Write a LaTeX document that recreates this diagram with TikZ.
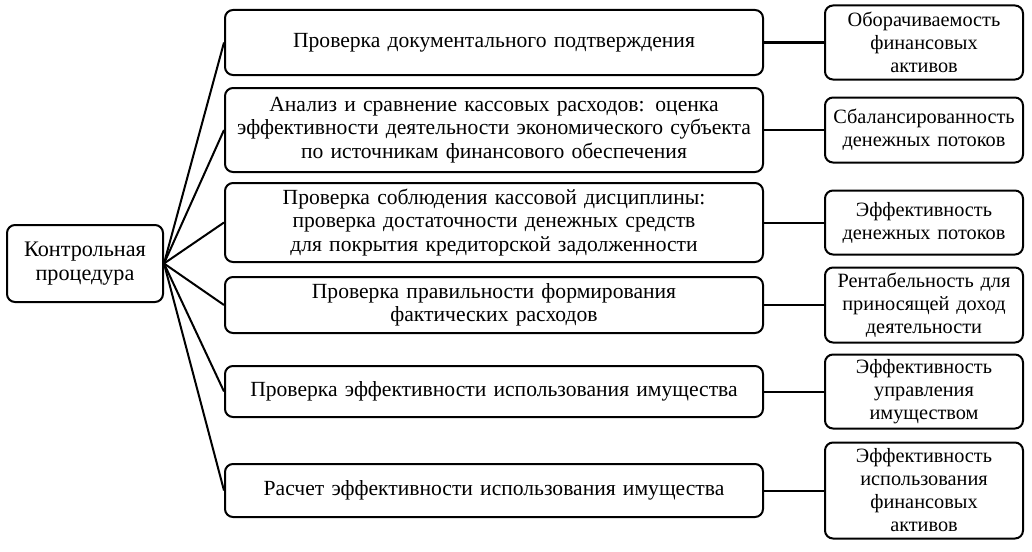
\documentclass[tikz,border=0pt]{standalone}
\usepackage{fontspec}
\setmainfont{Liberation Serif}
\begin{document}
\begin{tikzpicture}[x=1pt,y=-1pt,
  box/.style={draw,line width=2pt,rounded corners=8pt,align=center,inner sep=2pt,
    font=\fontsize{21.6}{23.5}\selectfont},
  mid/.style={box,minimum width=538pt,text width=532pt},
  rgt/.style={box,minimum width=196pt,text width=194pt,font=\fontsize{20.3}{23}\selectfont},
  conn/.style={line width=2pt}]
\useasboundingbox (0,0) rectangle (1032,551);
\node[box,minimum width=156pt,minimum height=77pt,text width=150pt,font=\fontsize{22.2}{24}\selectfont] (L) at (85,263.5) {Контрольная\\процедура};
\node[mid,minimum height=65pt] (m1) at (494,42.5) {Проверка документального подтверждения};
\node[mid,minimum height=84pt] (m2) at (494,130) {Анализ и сравнение кассовых расходов: оценка\\эффективности деятельности экономического субъекта\\по источникам финансового обеспечения};
\node[mid,minimum height=79pt] (m3) at (494,222.5) {Проверка соблюдения кассовой дисциплины:\\проверка достаточности денежных средств\\для покрытия кредиторской задолженности};
\node[mid,minimum height=56pt] (m4) at (494,305) {Проверка правильности формирования\\фактических расходов};
\node[mid,minimum height=51pt] (m5) at (494,391.5) {Проверка эффективности использования имущества};
\node[mid,minimum height=53pt] (m6) at (494,490.5) {Расчет эффективности использования имущества};
\node[rgt,minimum height=74pt] (r1) at (924,42.5) {Оборачиваемость\\финансовых\\активов};
\node[rgt,minimum height=65pt] (r2) at (924,130) {Сбалансированность\\денежных потоков};
\node[rgt,minimum height=64pt] (r3) at (924,222.5) {Эффективность\\денежных потоков};
\node[rgt,minimum height=75pt] (r4) at (924,305) {Рентабельность для\\приносящей доход\\деятельности};
\node[rgt,minimum height=74pt] (r5) at (924,391.5) {Эффективность\\управления\\имуществом};
\node[rgt,minimum height=96pt] (r6) at (924,490.5) {Эффективность\\использования\\финансовых\\активов};
\foreach \m in {m1,m2,m3,m4,m5,m6} \draw[conn] (L.east) -- (\m.west);
\draw[line width=3pt] (m1.east) -- (r1.west);
\foreach \i in {2,...,6} \draw[conn] (m\i.east) -- (r\i.west);
\end{tikzpicture}
\end{document}
